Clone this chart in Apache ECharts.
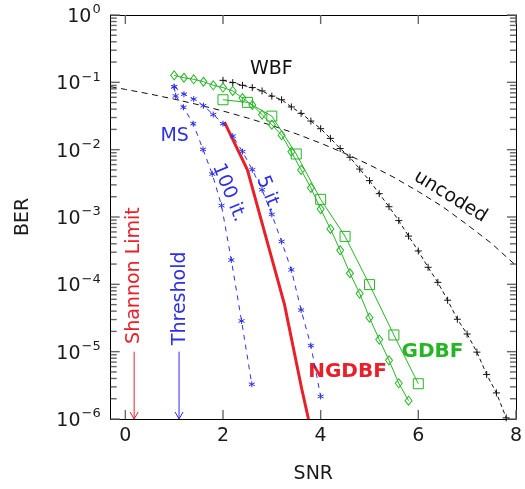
<!DOCTYPE html>
<html>
<head>
<meta charset="utf-8">
<script src="https://cdn.jsdelivr.net/npm/echarts@6/dist/echarts.min.js"></script>
<style>
  html, body { margin: 0; padding: 0; background: #fff; }
  #chart { width: 525px; height: 489px; }
</style>
</head>
<body>
<div id="chart"></div>
<script>
// Axis limits and tick positions
const xMin = -0.3, xMax = 8;
const yMin = 1e-6, yMax = 1;
const xTicks = [0, 2, 4, 6, 8];
const yTicks = [1e-6, 1e-5, 1e-4, 1e-3, 1e-2, 1e-1, 1];
const yMinorFactors = [2, 3, 4, 5, 6, 7, 8, 9];

// Uncoded BPSK
const uncodedSNR = [-0.3, 0, 0.5, 1, 1.5, 2, 2.5, 3, 3.5, 4, 4.5, 5, 5.5, 6, 6.5, 7, 7.5, 8];
const uncodedBER = [0.086, 0.0786, 0.0671, 0.0563, 0.0464, 0.0375, 0.0296, 0.0229, 0.0172, 0.0125,
  0.00877, 0.00595, 0.00388, 0.00239, 0.00142, 7.7e-4, 4.05e-4, 1.9e-4];

// WBF
const wbfSNR = [2.0, 2.2, 2.4, 2.6, 2.8, 3.0, 3.2, 3.4, 3.6, 3.8, 4.0, 4.2, 4.4, 4.6, 4.8,
  5.0, 5.2, 5.4, 5.6, 5.8, 6.0, 6.2, 6.4, 6.6, 6.8, 7.0, 7.2, 7.4, 7.6, 7.8];
const wbfBER = [0.107, 0.099, 0.0904, 0.0836, 0.0746, 0.0624, 0.0551, 0.0431, 0.0346, 0.0266,
  0.0205, 0.0147, 0.0104, 0.00771, 0.00515, 0.00347, 0.00222, 0.00142, 8.84e-4, 5.2e-4,
  3.13e-4, 1.79e-4, 1.07e-4, 5.81e-5, 3.03e-5, 1.83e-5, 9.84e-6, 4.59e-6, 2.44e-6, 1.04e-6];

// GDBF (single-step, squares)
const gdbfSqSNR = [2.0, 2.5, 3.0, 3.5, 4.0, 4.5, 5.0, 5.5, 6.0];
const gdbfSqBER = [0.0551, 0.0504, 0.0315, 0.00862, 1.83e-3, 5.15e-4, 9.9e-5, 1.77e-5, 3.34e-6];

// GDBF (multi-step, diamonds)
const gdbfDmSNR = [1.0, 1.2, 1.4, 1.6, 1.8, 2.0, 2.2, 2.4, 2.6, 2.8, 3.0, 3.2, 3.4, 3.6, 3.8,
  4.0, 4.2, 4.4, 4.6, 4.8, 5.0, 5.2, 5.4, 5.6, 5.8];
const gdbfDmBER = [0.127, 0.117, 0.111, 0.102, 0.0904, 0.0836, 0.0746, 0.0583, 0.0461, 0.0332,
  0.0235, 0.0164, 0.0093, 0.0050, 2.71e-3, 1.31e-3, 6.65e-4, 3.21e-4, 1.46e-4, 7.28e-5,
  3.2e-5, 1.51e-5, 7.43e-6, 3.39e-6, 1.87e-6];

// Min-sum, 5 iterations
const ms5SNR = [1.0, 1.2, 1.4, 1.6, 1.8, 2.0, 2.2, 2.4, 2.6, 2.8, 3.0, 3.2, 3.4, 3.6, 3.8, 4.0];
const ms5BER = [0.0859, 0.0667, 0.0564, 0.0450, 0.0332, 0.0243, 0.0159, 0.00935, 0.00503,
  0.00254, 0.00109, 4.32e-4, 1.64e-4, 4.15e-5, 1.23e-5, 2.16e-6];

// Min-sum, 100 iterations
const ms100SNR = [1.0, 1.03, 1.19, 1.39, 1.59, 1.78, 1.97, 2.17, 2.38, 2.59];
const ms100BER = [0.0859, 0.063, 0.0426, 0.0243, 0.0101, 0.00435, 0.00148, 2.29e-4, 2.86e-5, 3.28e-6];

// Noisy GDBF
const ngdbfSNR = [2.03, 2.5, 3.26, 3.61, 3.75];
const ngdbfBER = [0.0257, 5.0e-3, 5.0e-5, 2.86e-6, 1.0e-6];

// Reference SNR limits (arrow from 1e-5 down to 1e-6)
const shannonLimitSNR = 0.18;
const thresholdSNR = 1.1;
const arrowBER = [1e-5, 1e-6];

const FONT = '"DejaVu Sans", sans-serif';
const RED = '#e8202a';
const BLUE = '#2f2fe6';
const GREEN = '#25b525';
const TICK = '#666666';

const yMinorTicks = [];
yTicks.slice(0, -1).forEach(d => yMinorFactors.forEach(f => yMinorTicks.push(d * f)));

const zip = (xs, ys) => xs.map((x, i) => [x, ys[i]]);

// In-plot labels, anchored in data coordinates
const annotations = [
  { text: 'WBF', at: [2.99, 0.155], rot: 0, color: '#111', weight: 'normal' },
  { text: 'MS', at: [1.01, 0.0160], rot: 0, color: BLUE, weight: 'normal' },
  { text: '100 it.', at: [2.12, 0.00229], rot: -68, color: BLUE, weight: 'normal' },
  { text: '5 it.', at: [2.93, 0.00221], rot: -68, color: BLUE, weight: 'normal' },
  { text: 'uncoded', at: [6.66, 0.002], rot: -31.6, color: '#111', weight: 'normal' },
  { text: 'GDBF', at: [6.29, 1.0e-5], rot: 0, color: GREEN, weight: 'bold' },
  { text: 'NGDBF', at: [4.55, 5.0e-6], rot: 0, color: RED, weight: 'bold' },
  { text: 'Shannon Limit', at: [shannonLimitSNR, 1.35e-4], rot: 90, color: RED, weight: 'normal' },
  { text: 'Threshold', at: [thresholdSNR + 0.02, 6.2e-5], rot: 90, color: BLUE, weight: 'normal' }
];

// Guide marks: limit arrows plus inward tick marks along the frame
const guides = [
  { kind: 'arrow', x: shannonLimitSNR, color: RED },
  { kind: 'arrow', x: thresholdSNR, color: BLUE }
];
xTicks.forEach(v => {
  guides.push({ kind: 'tick', at: [v, yMin], d: [0, -9] });
  guides.push({ kind: 'tick', at: [v, yMax], d: [0, 9] });
});
yTicks.forEach(v => {
  guides.push({ kind: 'tick', at: [xMin, v], d: [9, 0] });
  guides.push({ kind: 'tick', at: [xMax, v], d: [-9, 0] });
});
yMinorTicks.forEach(v => {
  guides.push({ kind: 'tick', at: [xMin, v], d: [6, 0] });
  guides.push({ kind: 'tick', at: [xMax, v], d: [-6, 0] });
});

const plusSym = 'path://M0,-1L0,1M-1,0L1,0';
const starSym = 'path://M0,-1L0,1M-0.866,-0.5L0.866,0.5M-0.866,0.5L0.866,-0.5';
const squareSym = 'path://M-1,-1L1,-1L1,1L-1,1Z';
const diamondSym = 'path://M0,-1L1,0L0,1L-1,0Z';

function supLabel(v) {
  const e = Math.round(Math.log10(v));
  return '{b|10}{s|' + (e < 0 ? '\u2212' + (-e) : e) + '}';
}

const frameLine = { show: true, onZero: false, lineStyle: { color: '#000', width: 1 } };

const chart = echarts.init(document.getElementById('chart'), null, { renderer: 'canvas' });

chart.setOption({
  animation: false,
  backgroundColor: '#fff',
  textStyle: { fontFamily: FONT },
  grid: { left: 110.7, right: 5, top: 15, bottom: 64, containLabel: false },
  xAxis: [
    {
      type: 'value', min: xMin, max: xMax, position: 'bottom',
      axisLine: frameLine, axisTick: { show: false }, splitLine: { show: false },
      axisLabel: { customValues: xTicks, fontSize: 19, color: '#1a1a1a', margin: 8, fontFamily: FONT },
      name: 'SNR', nameLocation: 'middle', nameGap: 46,
      nameTextStyle: { fontSize: 19, color: '#1a1a1a', fontFamily: FONT }
    },
    {
      type: 'value', min: xMin, max: xMax, position: 'top',
      axisLine: frameLine, axisTick: { show: false }, splitLine: { show: false },
      axisLabel: { show: false }
    }
  ],
  yAxis: [
    {
      type: 'log', logBase: 10, min: yMin, max: yMax, position: 'left',
      axisLine: frameLine, axisTick: { show: false }, splitLine: { show: false },
      axisLabel: {
        customValues: yTicks, margin: 10, formatter: supLabel,
        rich: {
          b: { fontSize: 19, color: '#1a1a1a', fontFamily: FONT, verticalAlign: 'bottom' },
          s: { fontSize: 13, color: '#1a1a1a', fontFamily: FONT, verticalAlign: 'top', padding: [0, 0, 10, 1] }
        }
      },
      name: 'BER', nameLocation: 'middle', nameGap: 78,
      nameTextStyle: { fontSize: 19, color: '#1a1a1a', fontFamily: FONT }
    },
    {
      type: 'log', logBase: 10, min: yMin, max: yMax, position: 'right',
      axisLine: frameLine, axisTick: { show: false }, splitLine: { show: false },
      axisLabel: { show: false }
    }
  ],
  series: [
    {
      name: 'uncoded', type: 'line', data: zip(uncodedSNR, uncodedBER), showSymbol: false,
      lineStyle: { color: '#111', width: 1, type: [6, 4.5] }
    },
    {
      name: 'WBF', type: 'line', data: zip(wbfSNR, wbfBER),
      symbol: plusSym, symbolSize: 7,
      itemStyle: { color: '#111', borderColor: '#111', borderWidth: 1 },
      lineStyle: { color: '#111', width: 1, type: [4, 3] }
    },
    {
      name: 'GDBF squares', type: 'line', data: zip(gdbfSqSNR, gdbfSqBER),
      symbol: squareSym, symbolSize: 10,
      itemStyle: { color: 'rgba(0,0,0,0)', borderColor: GREEN, borderWidth: 1 },
      lineStyle: { color: GREEN, width: 1 }
    },
    {
      name: 'GDBF diamonds', type: 'line', data: zip(gdbfDmSNR, gdbfDmBER),
      symbol: diamondSym, symbolSize: [7, 9],
      itemStyle: { color: 'rgba(0,0,0,0)', borderColor: GREEN, borderWidth: 1 },
      lineStyle: { color: GREEN, width: 1 }
    },
    {
      name: 'MS 100 it.', type: 'line', data: zip(ms100SNR, ms100BER),
      symbol: starSym, symbolSize: 6,
      itemStyle: { color: BLUE, borderColor: BLUE, borderWidth: 1 },
      lineStyle: { color: BLUE, width: 1, type: [5, 5] }
    },
    {
      name: 'MS 5 it.', type: 'line', data: zip(ms5SNR, ms5BER),
      symbol: starSym, symbolSize: 6,
      itemStyle: { color: BLUE, borderColor: BLUE, borderWidth: 1 },
      lineStyle: { color: BLUE, width: 1, type: [5, 5] }
    },
    {
      name: 'NGDBF', type: 'line', data: zip(ngdbfSNR, ngdbfBER), showSymbol: false,
      lineStyle: { color: RED, width: 3 }
    },
    {
      name: 'guides', type: 'custom', data: guides.map(g => (g.kind === 'arrow' ? [g.x] : [g.at[0]])),
      silent: true,
      renderItem: function (params, api) {
        const g = guides[params.dataIndex];
        if (g.kind === 'arrow') {
          const p0 = api.coord([g.x, arrowBER[0]]);
          const p1 = api.coord([g.x, arrowBER[1]]);
          const st = { stroke: g.color, lineWidth: 1, fill: null };
          return {
            type: 'group',
            children: [
              { type: 'line', shape: { x1: p0[0], y1: p0[1], x2: p1[0], y2: p1[1] }, style: st },
              { type: 'polyline', shape: { points: [[p1[0] - 4, p1[1] - 7], [p1[0], p1[1]], [p1[0] + 4, p1[1] - 7]] }, style: st }
            ]
          };
        }
        const p = api.coord(g.at);
        return {
          type: 'group',
          children: [{
            type: 'line',
            shape: { x1: p[0], y1: p[1], x2: p[0] + g.d[0], y2: p[1] + g.d[1] },
            style: { stroke: TICK, lineWidth: 1.4, fill: null }
          }]
        };
      }
    },
    {
      name: 'labels', type: 'custom', data: annotations.map(a => a.at),
      silent: true,
      renderItem: function (params, api) {
        const a = annotations[params.dataIndex];
        const p = api.coord(a.at);
        return {
          type: 'text', x: p[0], y: p[1], rotation: a.rot * Math.PI / 180,
          style: {
            text: a.text, fill: a.color, fontFamily: FONT, fontSize: a.weight === 'bold' ? 20 : 19,
            fontWeight: a.weight, align: 'center', verticalAlign: 'middle'
          }
        };
      }
    }
  ]
});
</script>
</body>
</html>
